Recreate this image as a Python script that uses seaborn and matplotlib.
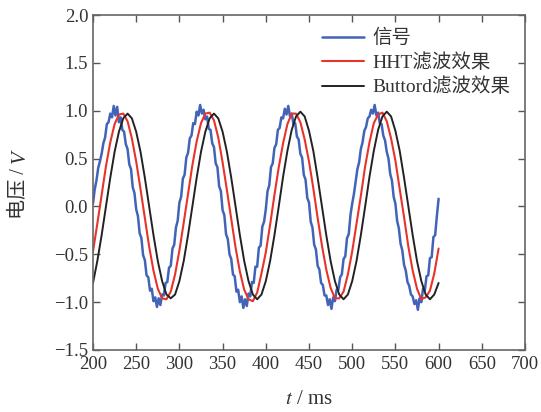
import numpy as np
import pandas as pd
import matplotlib
matplotlib.use("Agg")
import matplotlib.pyplot as plt
import seaborn as sns

# ---- data -------------------------------------------------------------
# raw measured signal, sampled every 2 ms from 200 ms to 600 ms
signal_t = np.arange(200, 601, 2)
signal_v = [
    0.03, 0.18, 0.27, 0.40, 0.47, 0.55, 0.66, 0.72, 0.86, 0.88,
    0.97, 0.93, 1.05, 0.95, 1.04, 0.88, 0.93, 0.80, 0.78, 0.65,
    0.60, 0.44, 0.39, 0.20, 0.14, -0.03, -0.10, -0.28, -0.33, -0.51,
    -0.56, -0.72, -0.74, -0.88, -0.86, -0.99, -0.95, -1.05, -0.96, -1.03,
    -0.92, -0.93, -0.80, -0.79, -0.64, -0.62, -0.44, -0.40, -0.22, -0.15,
    0.04, 0.10, 0.29, 0.33, 0.51, 0.56, 0.71, 0.74, 0.87, 0.86,
    0.99, 0.95, 1.06, 0.97, 1.01, 0.91, 0.94, 0.81, 0.80, 0.66,
    0.62, 0.45, 0.41, 0.21, 0.16, -0.04, -0.09, -0.29, -0.34, -0.50,
    -0.55, -0.71, -0.73, -0.89, -0.87, -1.00, -0.94, -1.06, -0.97, -1.04,
    -0.91, -0.94, -0.79, -0.80, -0.63, -0.63, -0.43, -0.41, -0.21, -0.16,
    -0.03, 0.16, 0.22, 0.41, 0.45, 0.61, 0.65, 0.80, 0.82, 0.93,
    0.92, 1.02, 0.96, 1.05, 0.94, 0.97, 0.86, 0.87, 0.73, 0.70,
    0.55, 0.51, 0.33, 0.28, 0.09, 0.04, -0.16, -0.22, -0.40, -0.45,
    -0.62, -0.66, -0.80, -0.82, -0.93, -0.93, -1.03, -0.97, -1.07, -0.95,
    -0.99, -0.87, -0.87, -0.74, -0.71, -0.55, -0.52, -0.33, -0.29, -0.09,
    0.03, 0.13, 0.26, 0.39, 0.46, 0.60, 0.67, 0.79, 0.83, 0.92,
    0.94, 1.01, 0.97, 1.06, 0.95, 0.98, 0.87, 0.86, 0.74, 0.69,
    0.57, 0.50, 0.34, 0.27, 0.10, 0.03, -0.15, -0.23, -0.39, -0.46,
    -0.61, -0.67, -0.79, -0.83, -0.92, -0.94, -1.02, -0.98, -1.08, -0.96,
    -1.00, -0.86, -0.88, -0.73, -0.72, -0.54, -0.53, -0.32, -0.30, -0.10,
    0.08,
]

# filtered outputs, sampled every 5 ms
filt_t = np.arange(200, 601, 5)
hht_v = [
    -0.47, -0.18, 0.12, 0.42, 0.67, 0.86, 0.96, 0.97, 0.89, 0.71,
    0.47, 0.18, -0.12, -0.42, -0.67, -0.86, -0.96, -0.97, -0.89, -0.71,
    -0.46, -0.17, 0.13, 0.43, 0.68, 0.87, 0.97, 0.98, 0.90, 0.72,
    0.46, 0.17, -0.13, -0.43, -0.68, -0.87, -0.97, -0.99, -0.90, -0.70,
    -0.48, -0.19, 0.12, 0.41, 0.66, 0.86, 0.97, 0.97, 0.88, 0.70,
    0.47, 0.19, -0.12, -0.41, -0.66, -0.85, -0.96, -0.96, -0.89, -0.71,
    -0.47, -0.18, 0.11, 0.42, 0.67, 0.87, 0.96, 0.98, 0.89, 0.71,
    0.48, 0.18, -0.11, -0.42, -0.67, -0.86, -0.97, -0.95, -0.88, -0.70,
    -0.44,
]
buttord_v = [
    -0.80, -0.57, -0.30, 0.00, 0.30, 0.57, 0.78, 0.92, 0.97, 0.92,
    0.78, 0.57, 0.30, 0.00, -0.30, -0.57, -0.78, -0.92, -0.96, -0.92,
    -0.78, -0.57, -0.30, 0.00, 0.30, 0.57, 0.78, 0.92, 0.97, 0.92,
    0.78, 0.57, 0.30, 0.00, -0.30, -0.57, -0.78, -0.92, -0.97, -0.92,
    -0.78, -0.57, -0.30, 0.00, 0.31, 0.58, 0.80, 0.94, 0.99, 0.94,
    0.79, 0.58, 0.30, 0.00, -0.30, -0.57, -0.78, -0.92, -0.97, -0.92,
    -0.78, -0.57, -0.30, 0.00, 0.31, 0.58, 0.80, 0.94, 0.99, 0.94,
    0.79, 0.58, 0.30, 0.00, -0.30, -0.57, -0.78, -0.92, -0.97, -0.92,
    -0.80,
]

series_names = ["信号", "HHT滤波效果", "Buttord滤波效果"]
series_colors = ["#4264b8", "#e8332b", "#222222"]

x_ticks = [200, 250, 300, 350, 400, 450, 500, 550, 600, 650, 700]
y_ticks = [-1.5, -1.0, -0.5, 0.0, 0.5, 1.0, 1.5, 2.0]

# ---- style ------------------------------------------------------------
sns.set_theme(style="ticks")
serif_cjk = ["Liberation Serif", "Noto Sans CJK SC"]
plt.rcParams["font.family"] = serif_cjk
plt.rcParams["axes.unicode_minus"] = True
plt.rcParams["mathtext.fontset"] = "stix"

fig = plt.figure(figsize=(5.41, 4.12), dpi=100)
ax = fig.add_axes([93 / 541, 1 - 350 / 412, 432 / 541, 335 / 412])

df_sig = pd.DataFrame({"t": signal_t, "v": signal_v})
df_hht = pd.DataFrame({"t": filt_t, "v": hht_v})
df_but = pd.DataFrame({"t": filt_t, "v": buttord_v})

sns.lineplot(data=df_sig, x="t", y="v", ax=ax, color=series_colors[0],
             linewidth=1.8, label=series_names[0], estimator=None)
sns.lineplot(data=df_hht, x="t", y="v", ax=ax, color=series_colors[1],
             linewidth=1.5, label=series_names[1], estimator=None)
sns.lineplot(data=df_but, x="t", y="v", ax=ax, color=series_colors[2],
             linewidth=1.4, label=series_names[2], estimator=None)

ax.set_xlim(200, 700)
ax.set_ylim(-1.5, 2.0)
ax.set_xticks(x_ticks)
ax.set_yticks(y_ticks)
ax.set_yticklabels([f"{v:.1f}".replace("-", "\u2212") for v in y_ticks])
ax.tick_params(direction="in", length=5, width=1.0, colors="#555555",
               labelcolor="#333333", labelsize=13.5,
               top=True, right=True)
ax.tick_params(axis="x", pad=4)
for sp in ax.spines.values():
    sp.set_visible(True)
    sp.set_color("#666666")
    sp.set_linewidth(1.2)

ax.set_xlabel("")
ax.set_ylabel("")

leg = ax.legend(loc="upper left", bbox_to_anchor=((322 - 93) / 432, (350 - 29) / 335),
                frameon=False, fontsize=14, handlelength=2.15,
                handletextpad=0.45, labelspacing=0.3,
                borderpad=0, borderaxespad=0)
for txt in leg.get_texts():
    txt.set_color("#333333")

# x axis label: italic t followed by unit
fig.text(0.5 * (93 + 525) / 541, 1 - 404 / 412, "$t$ / ms", ha="center",
         va="baseline", fontsize=15, color="#333333")

# y axis label built from two pieces so the symbol V can be italic
fig.canvas.draw()
renderer = fig.canvas.get_renderer()
y_center = 1 - 185 / 412
x_pos = 20 / 541
p1 = fig.text(x_pos, 0, "电压 / ", rotation=90, ha="center", va="bottom",
              fontsize=14.5, color="#333333", family=serif_cjk)
p2 = fig.text(x_pos, 0, "V", rotation=90, ha="center", va="bottom",
              fontsize=15, color="#333333", style="italic",
              family=["Liberation Serif"])
h1 = p1.get_window_extent(renderer).height / fig.bbox.height
h2 = p2.get_window_extent(renderer).height / fig.bbox.height
start = y_center - (h1 + h2) / 2
p1.set_y(start)
p2.set_y(start + h1)

fig.savefig("out.png", dpi=100, facecolor="white")
